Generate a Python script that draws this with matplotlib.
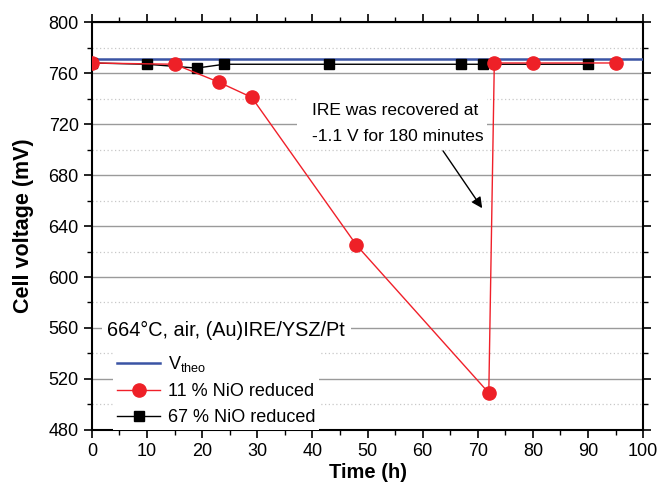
import matplotlib
matplotlib.use("Agg")
import matplotlib.pyplot as plt
from matplotlib.ticker import MultipleLocator
from matplotlib.patches import Rectangle

plt.rcParams['font.family'] = ['Liberation Sans', 'DejaVu Sans']

# Data
vtheo_t = [0, 100]
vtheo_v = [771, 771]

red_t = [0, 15, 23, 29, 48, 72, 73, 80, 95]
red_v = [768, 767, 753, 741, 625, 509, 768, 768, 768]

blk_t = [0, 10, 19, 24, 43, 67, 71, 90]
blk_v = [768, 767, 764, 767, 767, 767, 767, 767]

fig = plt.figure(figsize=(6.61, 4.83), dpi=100)
ax = fig.add_axes([0.139, 0.110, 0.834, 0.844])

ax.set_xlim(0, 100)
ax.set_ylim(480, 800)
ax.xaxis.set_major_locator(MultipleLocator(10))
ax.xaxis.set_minor_locator(MultipleLocator(5))
ax.yaxis.set_major_locator(MultipleLocator(40))
ax.yaxis.set_minor_locator(MultipleLocator(20))

ax.grid(True, which='major', axis='y', color='#9a9a9a', linewidth=1.0, linestyle='-', zorder=0)
ax.grid(True, which='minor', axis='y', color='#c8c8c8', linewidth=0.9, linestyle=(0, (1, 2)), zorder=0)
ax.set_axisbelow(True)

ax.tick_params(which='both', direction='out', top=True, right=True, labelsize=13)
ax.tick_params(which='major', length=6, width=1.2)
ax.tick_params(which='minor', length=3.5, width=1.0)
for s in ax.spines.values():
    s.set_linewidth(1.5)

l1, = ax.plot(vtheo_t, vtheo_v, color='#3a54a4', linewidth=1.8, label=r'V$_{\mathregular{theo}}$', zorder=3)
l2, = ax.plot(red_t, red_v, color='#f0202a', linewidth=1.0, marker='o', markersize=9.5,
              markerfacecolor='#ee2027', markeredgecolor='#ee2027', label='11 % NiO reduced', zorder=4)
l3, = ax.plot(blk_t, blk_v, color='black', linewidth=1.0, marker='s', markersize=7,
              markerfacecolor='black', markeredgecolor='black', label='67 % NiO reduced', zorder=3)

ax.set_xlabel('Time (h)', fontsize=14.5, fontweight='bold', labelpad=2)
ax.set_ylabel('Cell voltage (mV)', fontsize=15.5, fontweight='bold', labelpad=10)

ax.text(0.028, 0.245, '664°C, air, (Au)IRE/YSZ/Pt', transform=ax.transAxes, fontsize=14.3,
        va='center', ha='left', zorder=5,
        bbox=dict(facecolor='white', edgecolor='none', pad=4))

leg = ax.legend(handles=[l1, l2, l3], loc='upper left', bbox_to_anchor=(0.039, 0.195),
                fontsize=13, frameon=True, handlelength=2.4, borderpad=0.2,
                labelspacing=0.5, handletextpad=0.4, borderaxespad=0.0, fancybox=False)
leg.get_frame().set_facecolor('white')
leg.get_frame().set_edgecolor('none')
leg.get_frame().set_alpha(1.0)
leg.set_zorder(5)

# white background behind the annotation text
ax.add_patch(Rectangle((37.2, 703.5), 34.4, 41.5, facecolor='white', edgecolor='none', zorder=2))
ax.text(40.0, 731, 'IRE was recovered at', fontsize=12.5, ha='left', va='center', zorder=5)
ax.text(40.0, 710, '-1.1 V for 180 minutes', fontsize=12.5, ha='left', va='center', zorder=5)
ax.annotate('', xy=(70.8, 654), xytext=(63.7, 699),
            arrowprops=dict(arrowstyle='-|>', color='black', lw=1.0, mutation_scale=16,
                            shrinkA=0, shrinkB=0), zorder=5)

fig.savefig('out.png', dpi=100)
